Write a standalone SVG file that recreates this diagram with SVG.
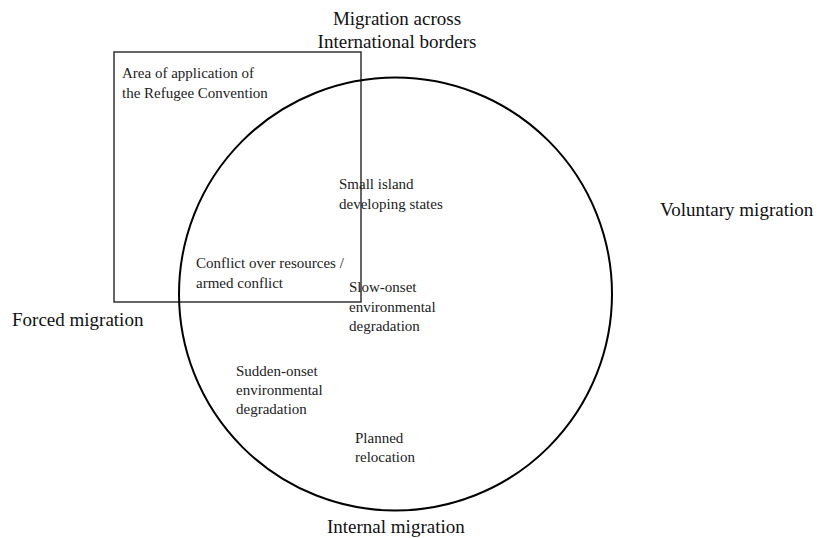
<svg xmlns="http://www.w3.org/2000/svg" width="817" height="538" viewBox="0 0 817 538">
<style>
.big{font-family:"Liberation Serif","DejaVu Serif",serif;font-size:19px;fill:#111}
.sm{font-family:"Liberation Serif","DejaVu Serif",serif;font-size:15px;fill:#222}
</style>
<rect width="817" height="538" fill="#fff"/>
<g id="refugee-convention">
<rect x="114" y="52" width="247" height="250" fill="none" stroke="#333" stroke-width="1.5"/>
<text class="sm" x="122" y="78">Area of application of</text>
<text class="sm" x="122" y="98">the Refugee Convention</text>
</g>
<g id="internal-circle">
<circle cx="395.5" cy="294" r="216.5" fill="none" stroke="#000" stroke-width="2"/>
</g>
<g id="labels">
<text class="big" x="397" y="25" text-anchor="middle">Migration across</text>
<text class="big" x="397" y="48" text-anchor="middle">International borders</text>
<text class="big" x="12" y="326">Forced migration</text>
<text class="big" x="660" y="216">Voluntary migration</text>
<text class="big" x="327" y="533">Internal migration</text>
</g>
<g id="small-island">
<text class="sm" x="339" y="189">Small island</text>
<text class="sm" x="339" y="209">developing states</text>
</g>
<g id="conflict">
<text class="sm" x="196" y="268">Conflict over resources /</text>
<text class="sm" x="196" y="288">armed conflict</text>
</g>
<g id="slow-onset">
<text class="sm" x="349" y="292">Slow-onset</text>
<text class="sm" x="349" y="312">environmental</text>
<text class="sm" x="349" y="331">degradation</text>
</g>
<g id="sudden-onset">
<text class="sm" x="236" y="376">Sudden-onset</text>
<text class="sm" x="236" y="395">environmental</text>
<text class="sm" x="236" y="414">degradation</text>
</g>
<g id="planned-relocation">
<text class="sm" x="355" y="443">Planned</text>
<text class="sm" x="355" y="462">relocation</text>
</g>
<g id="connectors"></g>
</svg>
